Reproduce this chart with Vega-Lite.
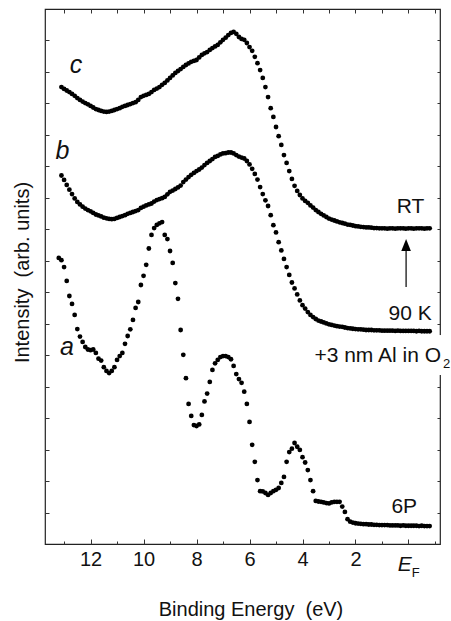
{
  "$schema": "https://vega.github.io/schema/vega-lite/v6.json",
  "width": 395,
  "height": 535,
  "autosize": "none",
  "padding": {"left": 45, "top": 9, "right": 11, "bottom": 77},
  "background": "white",
  "config": {
    "font": "Liberation Sans",
    "view": {"stroke": "#222", "strokeWidth": 1.2},
    "axis": {
      "grid": false,
      "domain": false,
      "tickColor": "#333",
      "tickWidth": 1,
      "labelFont": "Liberation Sans",
      "titleFont": "Liberation Sans",
      "labelColor": "#111",
      "titleColor": "#111",
      "labelFontSize": 20,
      "titleFontSize": 20,
      "titleFontWeight": "normal",
      "labelOverlap": false,
      "labelFlush": false
    }
  },
  "datasets": {
    "spectra": [
      {"curve":"c","eV":13.1,"I":14.52},{"curve":"c","eV":13.0,"I":14.46},{"curve":"c","eV":12.9,"I":14.41},{"curve":"c","eV":12.8,"I":14.36},{"curve":"c","eV":12.7,"I":14.30},{"curve":"c","eV":12.6,"I":14.24},{"curve":"c","eV":12.5,"I":14.17},{"curve":"c","eV":12.4,"I":14.11},{"curve":"c","eV":12.3,"I":14.06},{"curve":"c","eV":12.2,"I":14.01},
      {"curve":"c","eV":12.1,"I":13.97},{"curve":"c","eV":12.0,"I":13.92},{"curve":"c","eV":11.9,"I":13.87},{"curve":"c","eV":11.8,"I":13.82},{"curve":"c","eV":11.7,"I":13.79},{"curve":"c","eV":11.6,"I":13.76},{"curve":"c","eV":11.5,"I":13.74},{"curve":"c","eV":11.4,"I":13.73},{"curve":"c","eV":11.3,"I":13.74},{"curve":"c","eV":11.2,"I":13.76},
      {"curve":"c","eV":11.1,"I":13.79},{"curve":"c","eV":11.0,"I":13.82},{"curve":"c","eV":10.9,"I":13.85},{"curve":"c","eV":10.8,"I":13.89},{"curve":"c","eV":10.7,"I":13.92},{"curve":"c","eV":10.6,"I":13.95},{"curve":"c","eV":10.5,"I":13.98},{"curve":"c","eV":10.4,"I":14.01},{"curve":"c","eV":10.3,"I":14.04},{"curve":"c","eV":10.2,"I":14.11},
      {"curve":"c","eV":10.1,"I":14.20},{"curve":"c","eV":10.0,"I":14.24},{"curve":"c","eV":9.9,"I":14.27},{"curve":"c","eV":9.8,"I":14.30},{"curve":"c","eV":9.7,"I":14.36},{"curve":"c","eV":9.6,"I":14.43},{"curve":"c","eV":9.5,"I":14.47},{"curve":"c","eV":9.4,"I":14.52},{"curve":"c","eV":9.3,"I":14.59},{"curve":"c","eV":9.2,"I":14.65},
      {"curve":"c","eV":9.1,"I":14.73},{"curve":"c","eV":9.0,"I":14.81},{"curve":"c","eV":8.9,"I":14.89},{"curve":"c","eV":8.8,"I":14.97},{"curve":"c","eV":8.7,"I":15.03},{"curve":"c","eV":8.6,"I":15.09},{"curve":"c","eV":8.5,"I":15.16},{"curve":"c","eV":8.4,"I":15.22},{"curve":"c","eV":8.3,"I":15.27},{"curve":"c","eV":8.2,"I":15.32},
      {"curve":"c","eV":8.1,"I":15.35},{"curve":"c","eV":8.0,"I":15.38},{"curve":"c","eV":7.9,"I":15.46},{"curve":"c","eV":7.8,"I":15.54},{"curve":"c","eV":7.7,"I":15.59},{"curve":"c","eV":7.6,"I":15.63},{"curve":"c","eV":7.5,"I":15.70},{"curve":"c","eV":7.4,"I":15.76},{"curve":"c","eV":7.3,"I":15.81},{"curve":"c","eV":7.2,"I":15.86},
      {"curve":"c","eV":7.1,"I":15.94},{"curve":"c","eV":7.0,"I":16.02},{"curve":"c","eV":6.9,"I":16.09},{"curve":"c","eV":6.8,"I":16.17},{"curve":"c","eV":6.7,"I":16.24},{"curve":"c","eV":6.6,"I":16.27},{"curve":"c","eV":6.5,"I":16.21},{"curve":"c","eV":6.4,"I":16.11},{"curve":"c","eV":6.3,"I":16.05},{"curve":"c","eV":6.2,"I":16.02},
      {"curve":"c","eV":6.1,"I":15.92},{"curve":"c","eV":6.0,"I":15.79},{"curve":"c","eV":5.9,"I":15.67},{"curve":"c","eV":5.8,"I":15.48},{"curve":"c","eV":5.7,"I":15.28},{"curve":"c","eV":5.6,"I":15.06},{"curve":"c","eV":5.5,"I":14.81},{"curve":"c","eV":5.4,"I":14.52},{"curve":"c","eV":5.3,"I":14.20},{"curve":"c","eV":5.2,"I":13.85},
      {"curve":"c","eV":5.1,"I":13.57},{"curve":"c","eV":5.0,"I":13.25},{"curve":"c","eV":4.9,"I":12.96},{"curve":"c","eV":4.8,"I":12.68},{"curve":"c","eV":4.7,"I":12.36},{"curve":"c","eV":4.6,"I":12.11},{"curve":"c","eV":4.5,"I":11.85},{"curve":"c","eV":4.4,"I":11.60},{"curve":"c","eV":4.3,"I":11.38},{"curve":"c","eV":4.2,"I":11.22},
      {"curve":"c","eV":4.1,"I":11.09},{"curve":"c","eV":4.0,"I":10.98},{"curve":"c","eV":3.9,"I":10.90},{"curve":"c","eV":3.8,"I":10.84},{"curve":"c","eV":3.7,"I":10.76},{"curve":"c","eV":3.6,"I":10.69},{"curve":"c","eV":3.5,"I":10.61},{"curve":"c","eV":3.4,"I":10.55},{"curve":"c","eV":3.3,"I":10.49},{"curve":"c","eV":3.2,"I":10.44},
      {"curve":"c","eV":3.1,"I":10.39},{"curve":"c","eV":3.0,"I":10.34},{"curve":"c","eV":2.9,"I":10.31},{"curve":"c","eV":2.8,"I":10.28},{"curve":"c","eV":2.7,"I":10.25},{"curve":"c","eV":2.6,"I":10.22},{"curve":"c","eV":2.5,"I":10.20},{"curve":"c","eV":2.4,"I":10.18},{"curve":"c","eV":2.3,"I":10.15},{"curve":"c","eV":2.2,"I":10.14},
      {"curve":"c","eV":2.1,"I":10.12},{"curve":"c","eV":2.0,"I":10.10},{"curve":"c","eV":1.9,"I":10.09},{"curve":"c","eV":1.8,"I":10.08},{"curve":"c","eV":1.7,"I":10.07},{"curve":"c","eV":1.6,"I":10.06},{"curve":"c","eV":1.5,"I":10.06},{"curve":"c","eV":1.4,"I":10.05},{"curve":"c","eV":1.3,"I":10.04},{"curve":"c","eV":1.2,"I":10.04},
      {"curve":"c","eV":1.1,"I":10.03},{"curve":"c","eV":1.0,"I":10.03},{"curve":"c","eV":0.9,"I":10.03},{"curve":"c","eV":0.8,"I":10.02},{"curve":"c","eV":0.7,"I":10.03},{"curve":"c","eV":0.6,"I":10.03},{"curve":"c","eV":0.5,"I":10.02},{"curve":"c","eV":0.4,"I":10.03},{"curve":"c","eV":0.3,"I":10.03},{"curve":"c","eV":0.2,"I":10.03},
      {"curve":"c","eV":0.1,"I":10.02},{"curve":"c","eV":0.0,"I":10.03},{"curve":"c","eV":-0.1,"I":10.03},{"curve":"c","eV":-0.2,"I":10.02},{"curve":"c","eV":-0.3,"I":10.03},{"curve":"c","eV":-0.4,"I":10.03},{"curve":"c","eV":-0.5,"I":10.03},{"curve":"c","eV":-0.6,"I":10.02},{"curve":"c","eV":-0.7,"I":10.03},{"curve":"c","eV":-0.8,"I":10.03},

      {"curve":"b","eV":13.1,"I":11.71},{"curve":"b","eV":13.0,"I":11.57},{"curve":"b","eV":12.9,"I":11.41},{"curve":"b","eV":12.8,"I":11.26},{"curve":"b","eV":12.7,"I":11.12},{"curve":"b","eV":12.6,"I":10.98},{"curve":"b","eV":12.5,"I":10.87},{"curve":"b","eV":12.4,"I":10.79},{"curve":"b","eV":12.3,"I":10.72},{"curve":"b","eV":12.2,"I":10.66},
      {"curve":"b","eV":12.1,"I":10.61},{"curve":"b","eV":12.0,"I":10.57},{"curve":"b","eV":11.9,"I":10.52},{"curve":"b","eV":11.8,"I":10.47},{"curve":"b","eV":11.7,"I":10.44},{"curve":"b","eV":11.6,"I":10.41},{"curve":"b","eV":11.5,"I":10.37},{"curve":"b","eV":11.4,"I":10.35},{"curve":"b","eV":11.3,"I":10.33},{"curve":"b","eV":11.2,"I":10.32},
      {"curve":"b","eV":11.1,"I":10.33},{"curve":"b","eV":11.0,"I":10.36},{"curve":"b","eV":10.9,"I":10.39},{"curve":"b","eV":10.8,"I":10.42},{"curve":"b","eV":10.7,"I":10.45},{"curve":"b","eV":10.6,"I":10.49},{"curve":"b","eV":10.5,"I":10.52},{"curve":"b","eV":10.4,"I":10.55},{"curve":"b","eV":10.3,"I":10.58},{"curve":"b","eV":10.2,"I":10.61},
      {"curve":"b","eV":10.1,"I":10.68},{"curve":"b","eV":10.0,"I":10.72},{"curve":"b","eV":9.9,"I":10.76},{"curve":"b","eV":9.8,"I":10.79},{"curve":"b","eV":9.7,"I":10.82},{"curve":"b","eV":9.6,"I":10.88},{"curve":"b","eV":9.5,"I":10.93},{"curve":"b","eV":9.4,"I":10.96},{"curve":"b","eV":9.3,"I":10.99},{"curve":"b","eV":9.2,"I":11.03},
      {"curve":"b","eV":9.1,"I":11.11},{"curve":"b","eV":9.0,"I":11.19},{"curve":"b","eV":8.9,"I":11.23},{"curve":"b","eV":8.8,"I":11.28},{"curve":"b","eV":8.7,"I":11.33},{"curve":"b","eV":8.6,"I":11.39},{"curve":"b","eV":8.5,"I":11.50},{"curve":"b","eV":8.4,"I":11.58},{"curve":"b","eV":8.3,"I":11.66},{"curve":"b","eV":8.2,"I":11.73},
      {"curve":"b","eV":8.1,"I":11.79},{"curve":"b","eV":8.0,"I":11.85},{"curve":"b","eV":7.9,"I":11.90},{"curve":"b","eV":7.8,"I":11.96},{"curve":"b","eV":7.7,"I":12.04},{"curve":"b","eV":7.6,"I":12.11},{"curve":"b","eV":7.5,"I":12.17},{"curve":"b","eV":7.4,"I":12.23},{"curve":"b","eV":7.3,"I":12.30},{"curve":"b","eV":7.2,"I":12.33},
      {"curve":"b","eV":7.1,"I":12.38},{"curve":"b","eV":7.0,"I":12.41},{"curve":"b","eV":6.9,"I":12.42},{"curve":"b","eV":6.8,"I":12.44},{"curve":"b","eV":6.7,"I":12.44},{"curve":"b","eV":6.6,"I":12.41},{"curve":"b","eV":6.5,"I":12.36},{"curve":"b","eV":6.4,"I":12.31},{"curve":"b","eV":6.3,"I":12.28},{"curve":"b","eV":6.2,"I":12.25},
      {"curve":"b","eV":6.1,"I":12.17},{"curve":"b","eV":6.0,"I":12.06},{"curve":"b","eV":5.9,"I":11.92},{"curve":"b","eV":5.8,"I":11.76},{"curve":"b","eV":5.7,"I":11.58},{"curve":"b","eV":5.6,"I":11.34},{"curve":"b","eV":5.5,"I":11.12},{"curve":"b","eV":5.4,"I":10.92},{"curve":"b","eV":5.3,"I":10.74},{"curve":"b","eV":5.2,"I":10.45},
      {"curve":"b","eV":5.1,"I":10.13},{"curve":"b","eV":5.0,"I":9.90},{"curve":"b","eV":4.9,"I":9.59},{"curve":"b","eV":4.8,"I":9.33},{"curve":"b","eV":4.7,"I":9.06},{"curve":"b","eV":4.6,"I":8.80},{"curve":"b","eV":4.5,"I":8.55},{"curve":"b","eV":4.4,"I":8.31},{"curve":"b","eV":4.3,"I":8.12},{"curve":"b","eV":4.2,"I":7.93},
      {"curve":"b","eV":4.1,"I":7.74},{"curve":"b","eV":4.0,"I":7.59},{"curve":"b","eV":3.9,"I":7.48},{"curve":"b","eV":3.8,"I":7.37},{"curve":"b","eV":3.7,"I":7.28},{"curve":"b","eV":3.6,"I":7.21},{"curve":"b","eV":3.5,"I":7.15},{"curve":"b","eV":3.4,"I":7.10},{"curve":"b","eV":3.3,"I":7.07},{"curve":"b","eV":3.2,"I":7.04},
      {"curve":"b","eV":3.1,"I":7.01},{"curve":"b","eV":3.0,"I":6.98},{"curve":"b","eV":2.9,"I":6.96},{"curve":"b","eV":2.8,"I":6.94},{"curve":"b","eV":2.7,"I":6.92},{"curve":"b","eV":2.6,"I":6.91},{"curve":"b","eV":2.5,"I":6.90},{"curve":"b","eV":2.4,"I":6.88},{"curve":"b","eV":2.3,"I":6.86},{"curve":"b","eV":2.2,"I":6.85},
      {"curve":"b","eV":2.1,"I":6.84},{"curve":"b","eV":2.0,"I":6.83},{"curve":"b","eV":1.9,"I":6.82},{"curve":"b","eV":1.8,"I":6.82},{"curve":"b","eV":1.7,"I":6.81},{"curve":"b","eV":1.6,"I":6.80},{"curve":"b","eV":1.5,"I":6.80},{"curve":"b","eV":1.4,"I":6.80},{"curve":"b","eV":1.3,"I":6.79},{"curve":"b","eV":1.2,"I":6.79},
      {"curve":"b","eV":1.1,"I":6.79},{"curve":"b","eV":1.0,"I":6.78},{"curve":"b","eV":0.9,"I":6.78},{"curve":"b","eV":0.8,"I":6.78},{"curve":"b","eV":0.7,"I":6.78},{"curve":"b","eV":0.6,"I":6.78},{"curve":"b","eV":0.5,"I":6.77},{"curve":"b","eV":0.4,"I":6.78},{"curve":"b","eV":0.3,"I":6.77},{"curve":"b","eV":0.2,"I":6.77},
      {"curve":"b","eV":0.1,"I":6.77},{"curve":"b","eV":0.0,"I":6.77},{"curve":"b","eV":-0.1,"I":6.77},{"curve":"b","eV":-0.2,"I":6.77},{"curve":"b","eV":-0.3,"I":6.76},{"curve":"b","eV":-0.4,"I":6.77},{"curve":"b","eV":-0.5,"I":6.76},{"curve":"b","eV":-0.6,"I":6.76},{"curve":"b","eV":-0.7,"I":6.76},{"curve":"b","eV":-0.8,"I":6.76},

      {"curve":"a","eV":13.2,"I":9.09},{"curve":"a","eV":13.1,"I":9.02},{"curve":"a","eV":13.0,"I":8.80},{"curve":"a","eV":12.9,"I":8.36},{"curve":"a","eV":12.8,"I":7.88},{"curve":"a","eV":12.7,"I":7.63},{"curve":"a","eV":12.6,"I":7.28},{"curve":"a","eV":12.5,"I":6.83},{"curve":"a","eV":12.4,"I":6.59},{"curve":"a","eV":12.3,"I":6.42},
      {"curve":"a","eV":12.2,"I":6.26},{"curve":"a","eV":12.1,"I":6.18},{"curve":"a","eV":12.0,"I":6.16},{"curve":"a","eV":11.9,"I":6.18},{"curve":"a","eV":11.8,"I":6.07},{"curve":"a","eV":11.7,"I":5.89},{"curve":"a","eV":11.6,"I":5.83},{"curve":"a","eV":11.5,"I":5.62},{"curve":"a","eV":11.4,"I":5.50},{"curve":"a","eV":11.3,"I":5.43},
      {"curve":"a","eV":11.2,"I":5.50},{"curve":"a","eV":11.1,"I":5.62},{"curve":"a","eV":11.0,"I":5.85},{"curve":"a","eV":10.9,"I":5.97},{"curve":"a","eV":10.8,"I":6.07},{"curve":"a","eV":10.7,"I":6.36},{"curve":"a","eV":10.6,"I":6.61},{"curve":"a","eV":10.5,"I":6.82},{"curve":"a","eV":10.4,"I":7.12},{"curve":"a","eV":10.3,"I":7.50},
      {"curve":"a","eV":10.2,"I":7.69},{"curve":"a","eV":10.1,"I":8.23},{"curve":"a","eV":10.0,"I":8.52},{"curve":"a","eV":9.9,"I":8.87},{"curve":"a","eV":9.8,"I":9.39},{"curve":"a","eV":9.7,"I":9.82},{"curve":"a","eV":9.6,"I":10.04},{"curve":"a","eV":9.5,"I":10.14},{"curve":"a","eV":9.4,"I":10.19},{"curve":"a","eV":9.3,"I":10.23},
      {"curve":"a","eV":9.2,"I":9.82},{"curve":"a","eV":9.1,"I":9.69},{"curve":"a","eV":9.0,"I":9.31},{"curve":"a","eV":8.9,"I":8.93},{"curve":"a","eV":8.8,"I":8.29},{"curve":"a","eV":8.7,"I":7.79},{"curve":"a","eV":8.6,"I":6.80},{"curve":"a","eV":8.5,"I":6.01},{"curve":"a","eV":8.4,"I":5.27},{"curve":"a","eV":8.3,"I":4.45},
      {"curve":"a","eV":8.2,"I":4.07},{"curve":"a","eV":8.1,"I":3.78},{"curve":"a","eV":8.0,"I":3.75},{"curve":"a","eV":7.9,"I":3.80},{"curve":"a","eV":7.8,"I":4.10},{"curve":"a","eV":7.7,"I":4.53},{"curve":"a","eV":7.6,"I":4.78},{"curve":"a","eV":7.5,"I":5.15},{"curve":"a","eV":7.4,"I":5.53},{"curve":"a","eV":7.3,"I":5.74},
      {"curve":"a","eV":7.2,"I":5.85},{"curve":"a","eV":7.1,"I":5.94},{"curve":"a","eV":7.0,"I":5.97},{"curve":"a","eV":6.9,"I":5.97},{"curve":"a","eV":6.8,"I":5.94},{"curve":"a","eV":6.7,"I":5.87},{"curve":"a","eV":6.6,"I":5.66},{"curve":"a","eV":6.5,"I":5.40},{"curve":"a","eV":6.4,"I":5.24},{"curve":"a","eV":6.3,"I":5.12},
      {"curve":"a","eV":6.2,"I":4.84},{"curve":"a","eV":6.1,"I":4.45},{"curve":"a","eV":6.0,"I":3.88},{"curve":"a","eV":5.9,"I":3.15},{"curve":"a","eV":5.8,"I":2.61},{"curve":"a","eV":5.7,"I":2.03},{"curve":"a","eV":5.6,"I":1.68},{"curve":"a","eV":5.5,"I":1.67},{"curve":"a","eV":5.4,"I":1.62},{"curve":"a","eV":5.3,"I":1.56},
      {"curve":"a","eV":5.2,"I":1.62},{"curve":"a","eV":5.1,"I":1.68},{"curve":"a","eV":5.0,"I":1.72},{"curve":"a","eV":4.9,"I":1.78},{"curve":"a","eV":4.8,"I":1.94},{"curve":"a","eV":4.7,"I":2.13},{"curve":"a","eV":4.6,"I":2.61},{"curve":"a","eV":4.5,"I":2.92},{"curve":"a","eV":4.4,"I":3.03},{"curve":"a","eV":4.3,"I":3.21},
      {"curve":"a","eV":4.2,"I":3.09},{"curve":"a","eV":4.1,"I":2.99},{"curve":"a","eV":4.0,"I":2.76},{"curve":"a","eV":3.9,"I":2.59},{"curve":"a","eV":3.8,"I":2.35},{"curve":"a","eV":3.7,"I":2.03},{"curve":"a","eV":3.6,"I":1.68},{"curve":"a","eV":3.5,"I":1.37},{"curve":"a","eV":3.4,"I":1.35},{"curve":"a","eV":3.3,"I":1.34},
      {"curve":"a","eV":3.2,"I":1.32},{"curve":"a","eV":3.1,"I":1.30},{"curve":"a","eV":3.0,"I":1.29},{"curve":"a","eV":2.9,"I":1.32},{"curve":"a","eV":2.8,"I":1.34},{"curve":"a","eV":2.7,"I":1.34},{"curve":"a","eV":2.6,"I":1.34},{"curve":"a","eV":2.5,"I":1.19},{"curve":"a","eV":2.4,"I":1.02},{"curve":"a","eV":2.3,"I":0.79},
      {"curve":"a","eV":2.2,"I":0.71},{"curve":"a","eV":2.1,"I":0.68},{"curve":"a","eV":2.0,"I":0.66},{"curve":"a","eV":1.9,"I":0.65},{"curve":"a","eV":1.8,"I":0.64},{"curve":"a","eV":1.7,"I":0.63},{"curve":"a","eV":1.6,"I":0.63},{"curve":"a","eV":1.5,"I":0.62},{"curve":"a","eV":1.4,"I":0.62},{"curve":"a","eV":1.3,"I":0.61},
      {"curve":"a","eV":1.2,"I":0.61},{"curve":"a","eV":1.1,"I":0.60},{"curve":"a","eV":1.0,"I":0.60},{"curve":"a","eV":0.9,"I":0.60},{"curve":"a","eV":0.8,"I":0.60},{"curve":"a","eV":0.7,"I":0.59},{"curve":"a","eV":0.6,"I":0.59},{"curve":"a","eV":0.5,"I":0.59},{"curve":"a","eV":0.4,"I":0.59},{"curve":"a","eV":0.3,"I":0.58},
      {"curve":"a","eV":0.2,"I":0.59},{"curve":"a","eV":0.1,"I":0.58},{"curve":"a","eV":0.0,"I":0.58},{"curve":"a","eV":-0.1,"I":0.58},{"curve":"a","eV":-0.2,"I":0.58},{"curve":"a","eV":-0.3,"I":0.58},{"curve":"a","eV":-0.4,"I":0.57},{"curve":"a","eV":-0.5,"I":0.58},{"curve":"a","eV":-0.6,"I":0.57},{"curve":"a","eV":-0.7,"I":0.57},{"curve":"a","eV":-0.8,"I":0.57}
    ],
    "notes": [
      {"text":"RT","eV":-0.08,"I":10.52},
      {"text":"90 K","eV":-0.06,"I":7.12},
      {"text":"6P","eV":0.16,"I":0.99}
    ],
    "film": [{"text":"+3 nm Al in O","eV":-1.23,"I":5.78}],
    "filmSub": [{"text":"2","eV":-1.30,"I":5.59}],
    "curveNames": [
      {"text":"c","eV":12.55,"I":14.97},
      {"text":"b","eV":13.06,"I":12.23},
      {"text":"a","eV":12.89,"I":6.01}
    ],
    "gap": [{"eV":-1.04,"eV2":-1.8,"I":5.37,"I2":6.64}],
    "arrow": [{"eV":0.09,"I":8.17,"I2":9.45}],
    "arrowHead": [{"eV":0.09,"I":9.50}],
    "fermiE": [{"text":"E","eV":0.14,"I":-0.86}],
    "fermiF": [{"text":"F","eV":-0.27,"I":-1.05}]
  },
  "layer": [
    {
      "data": {"name": "gap"},
      "mark": {"type": "rect", "fill": "white", "stroke": null},
      "encoding": {
        "x": {"field": "eV", "type": "quantitative", "scale": {"domain": [-1.19, 13.72], "reverse": true, "nice": false, "zero": false},
              "axis": {"orient": "top", "values": [-1,0,1,2,3,4,5,6,7,8,9,10,11,12,13], "tickSize": -4, "labels": false, "title": null}},
        "x2": {"field": "eV2"},
        "y": {"field": "I", "type": "quantitative", "scale": {"domain": [0, 17], "nice": false, "zero": false},
              "axis": {"orient": "right", "values": [1,2,3,4,5,6,7,8,9,10,11,12,13,14,15,16], "tickSize": -3, "labels": false, "title": null}},
        "y2": {"field": "I2"}
      }
    },
    {
      "data": {"name": "spectra"},
      "mark": {"type": "circle", "size": 23, "opacity": 1, "color": "#000"},
      "encoding": {
        "x": {"field": "eV", "type": "quantitative", "scale": {"domain": [-1.19, 13.72], "reverse": true, "nice": false, "zero": false},
              "axis": {"orient": "bottom", "values": [12,10,8,6,4,2,0], "tickSize": -5, "labelPadding": 10.5, "labelBaseline": "top",
                       "labelExpr": "datum.value == 0 ? '' : datum.label",
                       "title": "Binding Energy\u00a0 (eV)", "titleX": 205.5, "titleY": 71, "titleBaseline": "alphabetic", "titleAnchor": null}},
        "y": {"field": "I", "type": "quantitative", "scale": {"domain": [0, 17], "nice": false, "zero": false},
              "axis": {"orient": "left", "values": [1,2,3,4,5,6,7,8,9,10,11,12,13,14,15,16], "tickSize": -4, "labels": false,
                       "title": "Intensity\u00a0 (arb. units)", "titleAngle": -90, "titleX": -17, "titleY": 263, "titleBaseline": "alphabetic", "titleAlign": "center"}}
      }
    },
    {
      "data": {"name": "notes"},
      "mark": {"type": "text", "fontSize": 21, "align": "center", "baseline": "alphabetic", "color": "#111"},
      "encoding": {
        "x": {"field": "eV", "type": "quantitative", "scale": {"domain": [-1.19, 13.72], "reverse": true, "nice": false, "zero": false},
              "axis": {"orient": "bottom", "values": [13,11,9,7,5,3,1,-1], "tickSize": -3, "labels": false, "title": null}},
        "y": {"field": "I", "type": "quantitative", "scale": {"domain": [0, 17], "nice": false, "zero": false}, "axis": null},
        "text": {"field": "text"}
      }
    },
    {
      "data": {"name": "film"},
      "mark": {"type": "text", "fontSize": 21, "align": "right", "baseline": "alphabetic", "color": "#111"},
      "encoding": {
        "x": {"field": "eV", "type": "quantitative", "scale": {"domain": [-1.19, 13.72], "reverse": true, "nice": false, "zero": false}, "axis": null},
        "y": {"field": "I", "type": "quantitative", "scale": {"domain": [0, 17], "nice": false, "zero": false}, "axis": null},
        "text": {"field": "text"}
      }
    },
    {
      "data": {"name": "filmSub"},
      "mark": {"type": "text", "fontSize": 13, "align": "left", "baseline": "alphabetic", "color": "#111"},
      "encoding": {
        "x": {"field": "eV", "type": "quantitative", "scale": {"domain": [-1.19, 13.72], "reverse": true, "nice": false, "zero": false}, "axis": null},
        "y": {"field": "I", "type": "quantitative", "scale": {"domain": [0, 17], "nice": false, "zero": false}, "axis": null},
        "text": {"field": "text"}
      }
    },
    {
      "data": {"name": "curveNames"},
      "mark": {"type": "text", "fontSize": 25, "fontStyle": "italic", "align": "center", "baseline": "alphabetic", "color": "#111"},
      "encoding": {
        "x": {"field": "eV", "type": "quantitative", "scale": {"domain": [-1.19, 13.72], "reverse": true, "nice": false, "zero": false}, "axis": null},
        "y": {"field": "I", "type": "quantitative", "scale": {"domain": [0, 17], "nice": false, "zero": false}, "axis": null},
        "text": {"field": "text"}
      }
    },
    {
      "data": {"name": "arrow"},
      "mark": {"type": "rule", "color": "#000", "strokeWidth": 1.2},
      "encoding": {
        "x": {"field": "eV", "type": "quantitative", "scale": {"domain": [-1.19, 13.72], "reverse": true, "nice": false, "zero": false}, "axis": null},
        "y": {"field": "I", "type": "quantitative", "scale": {"domain": [0, 17], "nice": false, "zero": false}, "axis": null},
        "y2": {"field": "I2"}
      }
    },
    {
      "data": {"name": "arrowHead"},
      "mark": {"type": "point", "shape": "M0,-1L0.8,1L-0.8,1Z", "size": 144, "filled": true, "color": "#000", "opacity": 1},
      "encoding": {
        "x": {"field": "eV", "type": "quantitative", "scale": {"domain": [-1.19, 13.72], "reverse": true, "nice": false, "zero": false}, "axis": null},
        "y": {"field": "I", "type": "quantitative", "scale": {"domain": [0, 17], "nice": false, "zero": false}, "axis": null}
      }
    },
    {
      "data": {"name": "fermiE"},
      "mark": {"type": "text", "fontSize": 21, "fontStyle": "italic", "align": "center", "baseline": "alphabetic", "color": "#111"},
      "encoding": {
        "x": {"field": "eV", "type": "quantitative", "scale": {"domain": [-1.19, 13.72], "reverse": true, "nice": false, "zero": false}, "axis": null},
        "y": {"field": "I", "type": "quantitative", "scale": {"domain": [0, 17], "nice": false, "zero": false}, "axis": null},
        "text": {"field": "text"}
      }
    },
    {
      "data": {"name": "fermiF"},
      "mark": {"type": "text", "fontSize": 13, "align": "center", "baseline": "alphabetic", "color": "#111"},
      "encoding": {
        "x": {"field": "eV", "type": "quantitative", "scale": {"domain": [-1.19, 13.72], "reverse": true, "nice": false, "zero": false}, "axis": null},
        "y": {"field": "I", "type": "quantitative", "scale": {"domain": [0, 17], "nice": false, "zero": false}, "axis": null},
        "text": {"field": "text"}
      }
    }
  ],
  "resolve": {"axis": {"x": "independent", "y": "independent"}}
}
